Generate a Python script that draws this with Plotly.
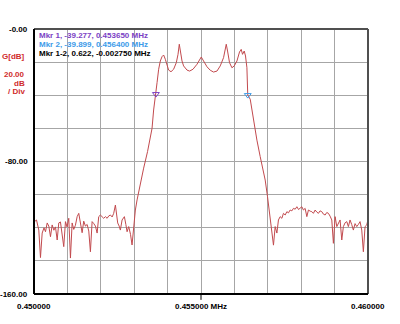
import plotly.graph_objects as go

# Frequency sweep (MHz) and measured gain (dB) of the IF filter
freq_mhz = [
    # lower stopband
    0.450000, 0.450015, 0.450075, 0.450110, 0.450144, 0.450194, 0.450245, 0.450300,
    0.450344, 0.450395, 0.450443, 0.450493, 0.450544, 0.450595, 0.450643, 0.450694,
    0.450742, 0.450792, 0.450843, 0.450891, 0.450942, 0.450990, 0.451041, 0.451091,
    0.451142, 0.451190, 0.451240, 0.451292, 0.451340, 0.451390, 0.451441, 0.451489,
    0.451540, 0.451591, 0.451640, 0.451689, 0.451740, 0.451790, 0.451839, 0.451890,
    0.451938, 0.451988, 0.452039, 0.452087, 0.452138, 0.452189, 0.452240, 0.452288,
    0.452340, 0.452386, 0.452437, 0.452506, 0.452550, 0.452586, 0.452637, 0.452706,
    0.452750, 0.452787, 0.452835, 0.452890, 0.452936, 0.452985, 0.453035, 0.453086,
    0.453134,
    # lower skirt
    0.453200, 0.453283, 0.453400, 0.453534, 0.453582,
    # passband
    0.453650, 0.453684, 0.453732, 0.453782, 0.453833, 0.453881, 0.453932, 0.453983,
    0.454031, 0.454102, 0.454180, 0.454261, 0.454312, 0.454350, 0.454380, 0.454431,
    0.454479, 0.454581, 0.454658, 0.454760, 0.454880, 0.454957, 0.455008, 0.455077,
    0.455179, 0.455277, 0.455376, 0.455478, 0.455576, 0.455675, 0.455756, 0.455795,
    0.455854, 0.455926, 0.455995, 0.456076, 0.456153, 0.456204, 0.456243, 0.456294,
    0.456333, 0.456375, 0.456400,
    # upper skirt
    0.456474, 0.456524, 0.456572, 0.456623, 0.456674, 0.456772, 0.456802, 0.456922,
    0.456991, 0.457051,
    # upper stopband
    0.457122, 0.457170, 0.457221, 0.457272, 0.457319, 0.457370, 0.457421, 0.457469,
    0.457520, 0.457571, 0.457620, 0.457669, 0.457720, 0.457768, 0.457820, 0.457870,
    0.457920, 0.457968, 0.458019, 0.458067, 0.458118, 0.458169, 0.458217, 0.458270,
    0.458318, 0.458366, 0.458417, 0.458466, 0.458516, 0.458565, 0.458617, 0.458666,
    0.458716, 0.458765, 0.458815, 0.458865, 0.458916, 0.458964, 0.459015, 0.459066,
    0.459114, 0.459164, 0.459215, 0.459263, 0.459314, 0.459365, 0.459413, 0.459463,
    0.459512, 0.459562, 0.459613, 0.459664, 0.459712, 0.459762, 0.459813, 0.459861,
    0.459912, 0.459963, 0.460000,
]
gain_db = [
    # lower stopband
    -118.0, -116.3, -115.3, -119.0, -121.4, -138.0, -123.2, -120.0,
    -122.4, -117.1, -119.0, -125.4, -118.3, -121.5, -119.5, -127.4,
    -117.1, -116.5, -125.4, -131.4, -116.3, -119.5, -114.3, -138.3,
    -117.1, -121.0, -118.5, -113.3, -111.3, -117.1, -123.0, -116.0,
    -119.0, -118.0, -122.0, -134.5, -116.3, -117.5, -119.0, -123.2,
    -113.3, -112.3, -113.3, -114.3, -113.3, -114.3, -112.8, -112.3,
    -113.5, -111.3, -106.3, -117.1, -119.0, -121.4, -115.3, -113.3,
    -118.0, -122.4, -119.3, -124.0, -130.4, -118.0, -109.3, -103.2,
    -98.2,
    # lower skirt
    -91.0, -84.0, -74.0, -60.0, -48.9,
    # passband
    -39.277, -32.4, -24.3, -19.3, -16.7, -15.7, -18.3, -22.3,
    -24.8, -25.8, -24.3, -20.3, -15.3, -9.2, -13.3, -19.3,
    -22.3, -24.8, -25.4, -24.3, -21.3, -18.7, -16.9, -19.3,
    -22.8, -24.9, -26.0, -25.4, -22.3, -17.3, -9.2, -13.3,
    -20.3, -23.4, -22.3, -19.3, -13.9, -12.3, -15.3, -13.3,
    -16.3, -23.4, -39.899,
    # upper skirt
    -42.4, -48.9, -55.0, -61.0, -67.1, -77.0, -79.5, -91.2,
    -101.2, -112.3,
    # upper stopband
    -123.2, -130.5, -119.3, -123.2, -115.3, -113.3, -114.3, -111.3,
    -112.3, -110.3, -111.0, -109.3, -109.8, -108.3, -108.8, -107.3,
    -109.0, -108.3, -107.3, -109.3, -108.3, -113.3, -109.3, -110.0,
    -110.3, -111.3, -109.3, -110.5, -111.3, -109.8, -110.3, -111.8,
    -112.3, -110.8, -111.3, -113.0, -115.3, -129.4, -113.3, -119.3,
    -117.0, -115.3, -127.4, -119.3, -117.0, -116.3, -119.3, -115.3,
    -118.0, -121.4, -117.5, -119.3, -118.0, -116.3, -121.4, -134.5,
    -119.3, -118.3, -115.0,
]

# Marker readouts
mkr_names = ["Mkr 1", "Mkr 2"]
mkr_freq = [0.453650, 0.456400]
mkr_gain = [-39.277, -39.899]
mkr_colors = ["#7b3fc4", "#3d9be9"]
delta_gain = 0.622
delta_freq = -0.002750

x_tick_vals = [0.450, 0.455, 0.460]
x_tick_text = ["0.450000", "0.455000 MHz", "0.460000"]
y_tick_vals = [0, -80, -160]
y_tick_text = ["-0.00", "-80.00", "-160.00"]

FONT = "Liberation Sans, Arial, sans-serif"
TRACE = "#c24a4e"
RED_TXT = "#d02c2c"

fig = go.Figure()
fig.add_trace(go.Scatter(
    x=freq_mhz, y=gain_db, mode="lines",
    line=dict(color=TRACE, width=1), hoverinfo="skip", showlegend=False,
))
for f, g, c in zip(mkr_freq, mkr_gain, mkr_colors):
    fig.add_trace(go.Scatter(
        x=[f], y=[g], mode="markers",
        marker=dict(symbol="triangle-down-open", size=6, color=c, line=dict(width=1, color=c)),
        hoverinfo="skip", showlegend=False,
    ))

annotations = []
# marker readout text block
readouts = [
    (f"{mkr_names[0]}, {mkr_gain[0]:.3f}, {mkr_freq[0]:.6f} MHz", mkr_colors[0], 0.974),
    (f"{mkr_names[1]}, {mkr_gain[1]:.3f}, {mkr_freq[1]:.6f} MHz", mkr_colors[1], 0.940),
    (f"Mkr 1-2, {delta_gain:.3f}, {delta_freq:.6f} MHz", "#000000", 0.906),
]
for txt, col, yy in readouts:
    annotations.append(dict(
        text=f"<b>{txt}</b>", x=0.009, y=yy, xref="paper", yref="paper",
        xanchor="left", yanchor="middle", showarrow=False,
        font=dict(family=FONT, size=8, color=col),
    ))
# y axis labels
for v, t in zip(y_tick_vals, y_tick_text):
    annotations.append(dict(
        text=f"<b>{t}</b>", x=-0.012, y=v, xref="paper", yref="y",
        xanchor="right", yanchor="middle", showarrow=False,
        font=dict(family=FONT, size=8, color="#000000"),
    ))
# x axis labels
for v, t in zip(x_tick_vals, x_tick_text):
    annotations.append(dict(
        text=f"<b>{t}</b>", x=v, y=-0.049, xref="x", yref="paper",
        xanchor="center", yanchor="middle", showarrow=False,
        font=dict(family=FONT, size=8, color="#000000"),
    ))
# scale caption
for t, yy in [("G[dB]", 0.898), ("20.00", 0.830), ("dB", 0.796), ("/ Div", 0.766)]:
    annotations.append(dict(
        text=f"<b>{t}</b>", x=-0.021, y=yy, xref="paper", yref="paper",
        xanchor="right", yanchor="middle", showarrow=False,
        font=dict(family=FONT, size=8, color=RED_TXT),
    ))

shapes = [
    dict(type="line", xref="paper", yref="paper", x0=0, x1=1, y0=1, y1=1,
         line=dict(color="#505050", width=2), layer="above"),
    dict(type="line", xref="paper", yref="paper", x0=1, x1=1, y0=0, y1=1,
         line=dict(color="#505050", width=2), layer="above"),
    dict(type="line", xref="paper", yref="paper", x0=0, x1=0, y0=0, y1=1,
         line=dict(color="#000000", width=2), layer="above"),
    dict(type="line", xref="paper", yref="paper", x0=0, x1=1, y0=0, y1=0,
         line=dict(color="#000000", width=2), layer="above"),
    dict(type="line", xref="x", yref="paper", x0=0.455, x1=0.455, y0=0, y1=-0.022,
         line=dict(color="#000000", width=1), layer="above"),
]

fig.update_layout(
    width=400, height=324,
    margin=dict(l=34, r=32, t=29, b=30),
    paper_bgcolor="white", plot_bgcolor="white",
    annotations=annotations, shapes=shapes,
    xaxis=dict(range=[0.450, 0.460], dtick=0.001, tick0=0.450, showgrid=True,
               gridcolor="#a6a6a6", gridwidth=1, showticklabels=False,
               zeroline=False, showline=False, ticks=""),
    yaxis=dict(range=[-160, 0], dtick=20, tick0=0, showgrid=True,
               gridcolor="#a6a6a6", gridwidth=1, showticklabels=False,
               zeroline=False, showline=False, ticks=""),
)

fig.write_html("out.html")
